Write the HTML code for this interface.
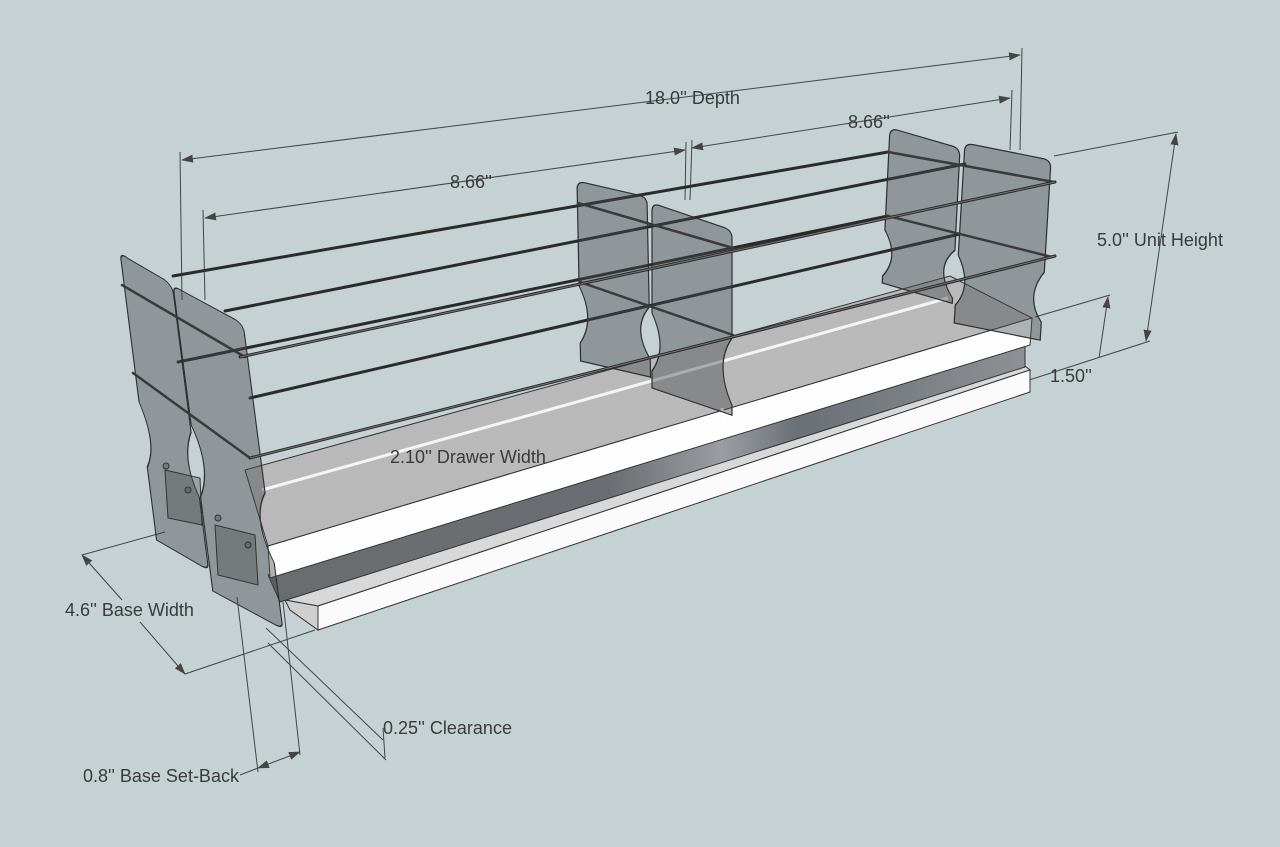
<!DOCTYPE html>
<html><head><meta charset="utf-8"><style>
html,body{margin:0;padding:0;background:#c5d1d3;}
svg{display:block}
text{font-family:"Liberation Sans",sans-serif;font-size:18px;fill:#3a3a3a}
</style></head><body>
<svg width="1280" height="847" viewBox="0 0 1280 847" xmlns="http://www.w3.org/2000/svg">
<defs>
<marker id="ar" markerWidth="12" markerHeight="8" refX="11" refY="4" orient="auto" markerUnits="userSpaceOnUse"><path d="M0,0 L12,4 L0,8 Z" fill="#444"/></marker>
<marker id="al" markerWidth="12" markerHeight="8" refX="1" refY="4" orient="auto" markerUnits="userSpaceOnUse"><path d="M12,0 L0,4 L12,8 Z" fill="#444"/></marker>
<linearGradient id="rail" x1="0" y1="0" x2="1" y2="0">
<stop offset="0" stop-color="#6a6d70"/><stop offset="0.45" stop-color="#6a6e72"/><stop offset="0.6" stop-color="#9a9ea4"/><stop offset="0.7" stop-color="#6a7076"/><stop offset="1" stop-color="#8d9195"/></linearGradient>
</defs>

<!-- dimension lines -->
<g stroke="#444" stroke-width="1" fill="none">
<line x1="182" y1="300" x2="180" y2="152"/>
<line x1="1020" y1="150" x2="1022" y2="48"/>
<line x1="182" y1="160" x2="1020" y2="55" marker-start="url(#al)" marker-end="url(#ar)"/>
<line x1="205" y1="300" x2="203" y2="210"/>
<line x1="685" y1="200" x2="686" y2="142"/>
<line x1="690" y1="200" x2="692" y2="140"/>
<line x1="1010" y1="150" x2="1012" y2="90"/>
<line x1="205" y1="218" x2="685" y2="150" marker-start="url(#al)" marker-end="url(#ar)"/>
<line x1="692" y1="148" x2="1010" y2="98" marker-start="url(#al)" marker-end="url(#ar)"/>
<line x1="1054" y1="156" x2="1178" y2="132"/>
<line x1="1023" y1="382" x2="1150" y2="341"/>
<line x1="1176" y1="134" x2="1146" y2="341" marker-start="url(#al)" marker-end="url(#ar)"/>
<line x1="1035" y1="317" x2="1110" y2="295"/>
<line x1="1108" y1="297" x2="1099" y2="358" marker-start="url(#al)"/>
<line x1="82" y1="555" x2="165" y2="532"/>
<line x1="185" y1="674" x2="315" y2="630"/>
<line x1="82" y1="555" x2="122" y2="600" marker-start="url(#al)"/>
<line x1="140" y1="622" x2="185" y2="674" marker-end="url(#ar)"/>
<line x1="237" y1="597" x2="258" y2="772"/>
<line x1="283" y1="602" x2="300" y2="755"/>
<line x1="258" y1="768" x2="300" y2="752" marker-start="url(#al)" marker-end="url(#ar)"/>
<line x1="240" y1="775" x2="258" y2="768"/>
<line x1="266" y1="628" x2="383" y2="740"/>
<line x1="268" y1="643" x2="386" y2="760"/>
<line x1="383" y1="728" x2="385" y2="758"/>
<line x1="440" y1="437" x2="452" y2="444" marker-start="url(#al)"/>
<line x1="488" y1="470" x2="500" y2="476" marker-end="url(#ar)"/>
</g>

<!-- base -->
<polygon points="285,600 1025,366 1030,370 318,606" fill="#d8d8d8" stroke="#333" stroke-width="1"/>
<polygon points="318,606 1030,370 1030,392 318,630" fill="#fbfbfb" stroke="#333" stroke-width="1"/>
<polygon points="285,600 318,606 318,630 290,610" fill="#cfcfcf" stroke="#333" stroke-width="1"/>
<!-- rail -->
<polygon points="268,575 1025,345 1025,367 280,602" fill="url(#rail)" stroke="#333" stroke-width="1"/>
<!-- drawer top -->
<polygon points="245,470 950,276 1032,318 268,546" fill="#b9b9b9" stroke="#333" stroke-width="1"/>
<line x1="262" y1="490" x2="948" y2="298" stroke="#f5f5f5" stroke-width="3"/>
<polygon points="268,546 1032,318 1030,345 270,578" fill="#fdfdfd" stroke="#333" stroke-width="1"/>
<line x1="722" y1="408" x2="726" y2="434" stroke="#fff" stroke-width="3"/>

<!-- longitudinal rods (behind) -->
<g stroke="#2a2a2a" stroke-width="3" fill="none" stroke-linecap="round">
<line x1="173" y1="276" x2="888" y2="152"/>
<line x1="225" y1="311" x2="965" y2="164"/>
<line x1="178" y1="362" x2="888" y2="216"/>
<line x1="250" y1="398" x2="960" y2="234"/>
</g>

<!-- panels -->
<g fill="rgba(70,72,76,0.42)" stroke="#2e2e2e" stroke-width="1.2">
<path transform="matrix(1,0.58,0.127,1,120,252)" d="M0,8 Q0,0 8,2 L44,2 Q52,4 52,12 L52,150 Q38,185 52,215 L52,282 Q52,288 44,288 L0,288 L0,215 Q14,185 0,150 Z"/>
<path transform="matrix(1,0.54,0.13,1,173,285)" d="M0,8 Q0,0 8,1 L62,1 Q70,2 70,10 L70,170 Q52,205 70,240 L70,300 Q70,306 62,306 L0,306 L0,212 Q16,175 0,140 Z"/>
<path transform="matrix(1,0.23,0.02,1,577,181)" d="M0,8 Q0,0 8,0 L62,0 Q70,0 70,8 L70,110 Q52,135 70,162 L70,180 L0,180 L0,162 Q16,135 0,105 Z"/>
<path transform="matrix(1,0.34,0.0,1,652,203)" d="M0,8 Q0,0 8,0 L72,0 Q80,0 80,8 L80,108 Q62,140 80,175 L80,185 L0,185 L0,168 Q16,140 0,110 Z"/>
<path transform="matrix(1,0.29,-0.05,1,890,128)" d="M0,8 Q0,0 8,0 L62,0 Q70,0 70,8 L70,102 Q50,125 70,150 L70,155 L0,155 L0,148 Q16,125 0,102 Z"/>
<path transform="matrix(1,0.2,-0.06,1,965,143)" d="M0,8 Q0,0 8,0 L78,0 Q86,0 86,8 L86,112 Q68,140 86,162 L86,180 L0,180 L0,162 Q16,140 0,112 Z"/>
</g>
<!-- bracket details on front panels -->
<g fill="rgba(60,60,60,0.3)" stroke="#333" stroke-width="1">
<polygon points="165,470 200,478 202,525 168,518"/>
<polygon points="215,525 255,535 258,585 218,575"/>
<circle cx="166" cy="466" r="3"/><circle cx="188" cy="490" r="3"/>
<circle cx="218" cy="518" r="3"/><circle cx="248" cy="545" r="3"/>
</g>

<!-- cross rods -->
<g stroke="#3a3a3a" stroke-width="2.5" fill="none" stroke-linecap="round">
<line x1="122" y1="285" x2="245" y2="357"/>
<line x1="133" y1="373" x2="250" y2="458"/>
<line x1="578" y1="203" x2="733" y2="248"/>
<line x1="580" y1="282" x2="733" y2="335"/>
<line x1="888" y1="152" x2="1054" y2="182"/>
<line x1="888" y1="216" x2="1052" y2="257"/>
</g>
<!-- front longitudinal rods -->
<g stroke="#2a2a2a" stroke-width="3" fill="none" stroke-linecap="round">
<line x1="240" y1="357" x2="1055" y2="182"/>
<line x1="250" y1="458" x2="1055" y2="256"/>
</g>
<g stroke="#777" stroke-width="1" fill="none">
<line x1="240" y1="357" x2="1055" y2="182"/>
<line x1="250" y1="458" x2="1055" y2="256"/>
</g>

<!-- labels -->
<text x="645" y="104">18.0'' Depth</text>
<text x="450" y="188">8.66''</text>
<text x="848" y="128">8.66''</text>
<text x="1097" y="246">5.0'' Unit Height</text>
<text x="1050" y="382">1.50''</text>
<text x="390" y="463">2.10'' Drawer Width</text>
<text x="65" y="616">4.6'' Base Width</text>
<text x="383" y="734">0.25'' Clearance</text>
<text x="83" y="782">0.8'' Base Set-Back</text>
</svg>
</body></html>
